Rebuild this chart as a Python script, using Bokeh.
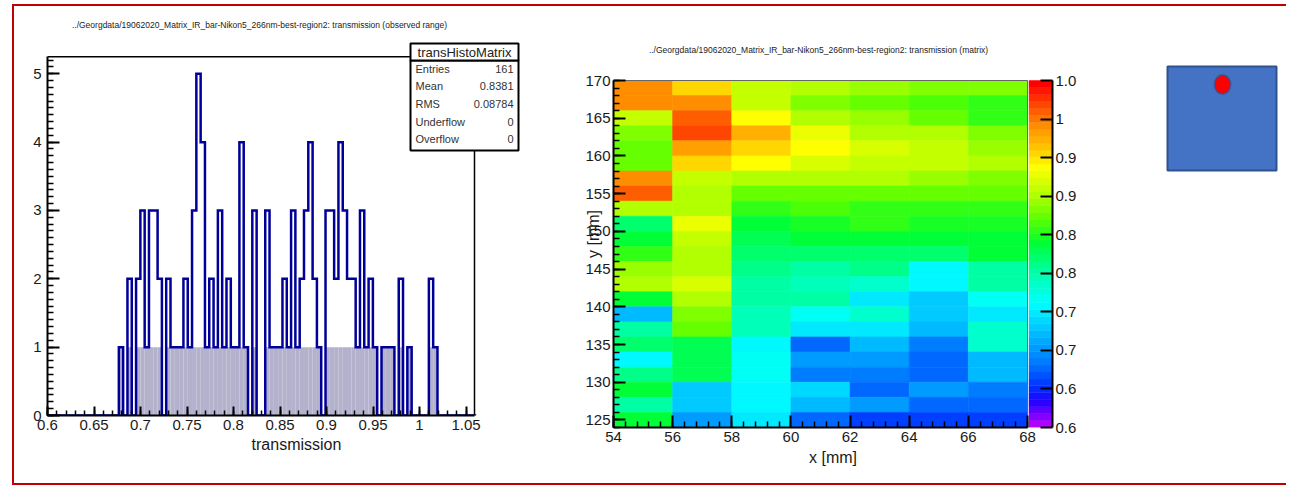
import numpy as np
from bokeh.plotting import figure
from bokeh.models import Range1d, LinearAxis, FixedTicker, Label, ColumnDataSource
from bokeh.layouts import row
from bokeh.embed import file_html
from bokeh.resources import INLINE
from bokeh.transform import linear_cmap

FONT = "Liberation Sans"

# ---------------------------------------------------------------- data
hist_title = "../Georgdata/19062020_Matrix_IR_bar-Nikon5_266nm-best-region2: transmission (observed range)"
map_title = "../Georgdata/19062020_Matrix_IR_bar-Nikon5_266nm-best-region2: transmission (matrix)"
stats_name = "transHistoMatrix"
stats_labels = ["Entries", "Mean", "RMS", "Underflow", "Overflow"]
stats_values = ["161", "0.8381", "0.08784", "0", "0"]
hist_xlabel = "transmission"
map_xlabel = "x [mm]"
map_ylabel = "y [mm]"

# histogram binning (100 bins) and bin contents
bin_lo = 0.598
bin_width = 0.00463
hist_counts = [0, 0, 0, 0, 0, 0, 0, 0, 0, 0,
               0, 0, 0, 0, 0, 0, 0, 1, 0, 2,
               0, 2, 3, 1, 3, 3, 2, 0, 2, 1,
               1, 1, 2, 1, 3, 5, 4, 1, 2, 1,
               3, 1, 2, 1, 1, 4, 1, 0, 3, 0,
               0, 3, 1, 1, 1, 2, 1, 3, 1, 2,
               3, 4, 2, 1, 0, 3, 3, 2, 4, 3,
               2, 2, 1, 3, 1, 2, 1, 0, 1, 1,
               1, 0, 2, 0, 1, 0, 0, 0, 0, 2,
               1, 0, 0, 0, 0, 0, 0, 0, 0, 0]
hist_ticks = [0.6, 0.65, 0.7, 0.75, 0.8, 0.85, 0.9, 0.95, 1.0, 1.05]
hist_tick_labels = ["0.6", "0.65", "0.7", "0.75", "0.8", "0.85", "0.9", "0.95", "1", "1.05"]
count_ticks = [0, 1, 2, 3, 4, 5]

# transmission matrix: columns x = 54..68 mm (2 mm), rows y = 170..124 mm (2 mm), top row first
map_x_lo, map_x_step, map_ncols = 54, 2, 7
map_y_top, map_y_step, map_nrows = 170, 2, 23
transmission_rows = [
    [0.99, 0.96, 0.91, 0.90, 0.89, 0.88, 0.88],
    [0.99, 0.99, 0.91, 0.885, 0.875, 0.865, 0.855],
    [0.91, 1.01, 0.94, 0.905, 0.89, 0.875, 0.855],
    [0.88, 1.02, 0.97, 0.93, 0.905, 0.90, 0.88],
    [0.87, 0.98, 0.955, 0.94, 0.92, 0.91, 0.89],
    [0.87, 0.96, 0.94, 0.92, 0.91, 0.91, 0.90],
    [0.99, 0.91, 0.90, 0.905, 0.90, 0.89, 0.88],
    [1.01, 0.905, 0.87, 0.875, 0.87, 0.875, 0.87],
    [0.90, 0.90, 0.86, 0.865, 0.86, 0.855, 0.86],
    [0.82, 0.93, 0.84, 0.85, 0.855, 0.845, 0.845],
    [0.84, 0.91, 0.83, 0.835, 0.84, 0.835, 0.84],
    [0.855, 0.905, 0.82, 0.82, 0.82, 0.82, 0.835],
    [0.89, 0.905, 0.81, 0.805, 0.81, 0.76, 0.80],
    [0.90, 0.92, 0.80, 0.79, 0.785, 0.76, 0.80],
    [0.84, 0.90, 0.80, 0.80, 0.75, 0.73, 0.77],
    [0.72, 0.88, 0.79, 0.77, 0.785, 0.73, 0.75],
    [0.80, 0.87, 0.79, 0.75, 0.75, 0.72, 0.785],
    [0.82, 0.83, 0.76, 0.68, 0.72, 0.69, 0.785],
    [0.76, 0.83, 0.77, 0.70, 0.70, 0.675, 0.72],
    [0.81, 0.83, 0.77, 0.69, 0.69, 0.675, 0.72],
    [0.84, 0.73, 0.76, 0.74, 0.675, 0.70, 0.69],
    [0.80, 0.73, 0.76, 0.72, 0.70, 0.68, 0.68],
    [0.84, 0.70, 0.75, 0.68, 0.66, 0.66, 0.66],
]
map_x_ticks = [54, 56, 58, 60, 62, 64, 66, 68]
map_y_ticks = [125, 130, 135, 140, 145, 150, 155, 160, 165, 170]
z_min, z_max = 0.6, 1.05
cbar_ticks = [0.6, 0.65, 0.7, 0.75, 0.8, 0.85, 0.9, 0.95, 1.0, 1.05]
cbar_tick_labels = ["0.6", "0.6", "0.7", "0.7", "0.8", "0.8", "0.9", "0.9", "1", "1.0"]

# ---------------------------------------------------------------- palette (ROOT-like rainbow)
anchor_v = [0.600, 0.630, 0.650, 0.680, 0.720, 0.760, 0.800, 0.840, 0.870, 0.900, 0.940, 0.970, 0.990, 1.010, 1.030, 1.050]
anchor_c = ["#b400ff", "#2200ff", "#0033ff", "#0077ff", "#00bbff", "#00ffff", "#00ffaa", "#00ff33",
            "#55ff00", "#aaff00", "#ffff00", "#ffbb00", "#ff9900", "#ff6600", "#ff3300", "#ff0000"]
NPAL = 50
rgb = np.array([[int(c[i:i + 2], 16) for i in (1, 3, 5)] for c in anchor_c], dtype=float)
vals = np.linspace(z_min, z_max, NPAL)
palette = ["#%02x%02x%02x" % tuple(int(round(np.interp(v, anchor_v, rgb[:, k]))) for k in range(3)) for v in vals]

# ---------------------------------------------------------------- page geometry
OX, OY = 14, 6            # page position of the content (inside the red frame)
H = 477
W1, W2, W3 = 536, 560, 176


def style_axis(ax, major_in, minor_in, size="15px"):
    ax.axis_line_width = 2
    ax.axis_line_color = "black"
    ax.major_tick_in = major_in
    ax.major_tick_out = 0
    ax.minor_tick_in = minor_in
    ax.minor_tick_out = 0
    ax.major_tick_line_width = 2
    ax.minor_tick_line_width = 1.5
    ax.major_tick_line_color = "black"
    ax.minor_tick_line_color = "black"
    ax.major_label_text_font = FONT
    ax.major_label_text_font_size = size
    ax.major_label_text_color = "#1a1a1a"
    ax.axis_label_text_font = FONT
    ax.axis_label_text_font_style = "normal"
    ax.axis_label_text_font_size = "16px"
    ax.axis_label_text_color = "#1a1a1a"


def make_fig(w, xr, yr, left, right, top, bottom, **kw):
    f = figure(width=w, height=H, output_backend="svg", toolbar_location=None,
               x_range=xr, y_range=yr, min_border_left=left, min_border_right=right,
               min_border_top=top, min_border_bottom=bottom, **kw)
    f.frame_align = False
    f.outline_line_color = None
    f.grid.visible = False
    f.background_fill_color = "white"
    f.border_fill_color = "white"
    return f


# ================================================================ figure 1: histogram
P1L, P1R, P1T, P1B = 47, 545, 14, 415      # frame edges, page px
XPX, YPX = 930.0, 68.34                     # px per unit
X0PAGE = 47                                 # page x of 0.6


def p1x(px):
    return 0.6 + (px - X0PAGE) / XPX


def p1y(py):
    return (415 - py) / YPX


hist_x_hi = p1x(474)
hist_y_hi = 5.25
x1 = OX
f1 = make_fig(W1, Range1d(p1x(P1L), p1x(P1R)), Range1d(p1y(P1B), p1y(P1T)),
              P1L - x1, x1 + W1 - P1R, P1T - OY, OY + H - P1B)

edges = bin_lo + bin_width * np.arange(len(hist_counts) + 1)
counts = np.array(hist_counts, dtype=float)
nz = counts > 0
f1.quad(left=edges[:-1][nz], right=edges[1:][nz], bottom=0, top=np.minimum(counts[nz], 1),
        fill_color="#b3b1cc", line_color=None)
xs, ys = [edges[0]], [0.0]
for i, c in enumerate(counts):
    xs += [edges[i], edges[i + 1]]
    ys += [c, c]
xs.append(edges[-1])
ys.append(0.0)
f1.line(xs, ys, line_color="#000099", line_width=2.5, line_join="miter")

f1.line([0.6, hist_x_hi, hist_x_hi], [hist_y_hi, hist_y_hi, 0], line_color="black", line_width=1.5)

xa = f1.xaxis[0]
xa.ticker = FixedTicker(ticks=hist_ticks, minor_ticks=[round(0.6 + 0.01 * i, 2) for i in range(46)])
xa.bounds = (0.6, hist_x_hi)
xa.major_label_overrides = dict(zip(hist_ticks, hist_tick_labels))
style_axis(xa, 9, 5)
xa.major_label_standoff = 4
xa.axis_label = hist_xlabel
xa.axis_label_standoff = 3

ya = f1.yaxis[0]
ya.ticker = FixedTicker(ticks=count_ticks, minor_ticks=[round(0.1 * i, 1) for i in range(53)])
ya.bounds = (0, hist_y_hi)
style_axis(ya, 12, 6)
ya.major_label_standoff = 6

f1.add_layout(Label(x=p1x(259), y=p1y(24), text=hist_title, text_align="center", text_baseline="middle",
                    text_font=FONT, text_font_size="8.5px", text_color="#222222"))

# stats box (page px)
SB_L, SB_R, SB_T, SB_M, SB_B = 410, 518, 43, 60, 150
f1.quad(left=p1x(SB_L), right=p1x(SB_R), top=p1y(SB_M), bottom=p1y(SB_B),
        fill_color="white", line_color="black", line_width=2)
f1.quad(left=p1x(SB_L), right=p1x(SB_R), top=p1y(SB_T), bottom=p1y(SB_M),
        fill_color="white", line_color="black", line_width=2)
f1.add_layout(Label(x=p1x((SB_L + SB_R) / 2), y=p1y((SB_T + SB_M) / 2 + 0.5), text=stats_name,
                    text_align="center", text_baseline="middle", text_font=FONT,
                    text_font_size="13px", text_color="#222222"))
for i, (nm, vl) in enumerate(zip(stats_labels, stats_values)):
    cy = 68 + 17.7 * i
    f1.add_layout(Label(x=p1x(SB_L + 5), y=p1y(cy), text=nm, text_align="left", text_baseline="middle",
                        text_font=FONT, text_font_size="11px", text_color="#333333"))
    f1.add_layout(Label(x=p1x(SB_R - 5), y=p1y(cy), text=vl, text_align="right", text_baseline="middle",
                        text_font=FONT, text_font_size="11px", text_color="#333333"))

# ================================================================ figure 2: matrix
x2 = OX + W1
P2L, P2R, P2T, P2B = 613, 1052, 40, 427
MXPX = (1027 - 613) / 14.0
MYPX = (427 - 80) / 46.0
CBPX = (427 - 80) / (z_max - z_min)


def p2x(px):
    return 54 + (px - 613) / MXPX


def p2y(py):
    return map_y_top - (py - 80) / MYPX


my_lo = map_y_top - map_y_step * map_nrows
f2 = make_fig(W2, Range1d(54, p2x(P2R)), Range1d(my_lo, p2y(P2T)),
              P2L - x2, x2 + W2 - P2R, P2T - OY, OY + H - P2B)
f2.extra_y_ranges = {"cb": Range1d(z_min, z_max + (80 - P2T) / CBPX)}

cx_, cy_, vv = [], [], []
for r, rowvals in enumerate(transmission_rows):
    for c, v in enumerate(rowvals):
        cx_.append(map_x_lo + map_x_step * (c + 0.5))
        cy_.append(map_y_top - map_y_step * (r + 0.5))
        vv.append(v)
src = ColumnDataSource(dict(x=cx_, y=cy_, v=vv))
cmap = linear_cmap("v", palette, z_min, z_max)
f2.rect(x="x", y="y", width=map_x_step, height=map_y_step, source=src,
        fill_color=cmap, line_color=cmap, line_width=0.6)

f2.line([54, 68, 68], [map_y_top, map_y_top, my_lo], line_color="#666666", line_width=1)

dz = (z_max - z_min) / NPAL
f2.quad(left=p2x(1028.5), right=p2x(P2R), bottom=[z_min + i * dz for i in range(NPAL)],
        top=[z_min + (i + 1) * dz for i in range(NPAL)], fill_color=palette, line_color=palette,
        line_width=0.5, y_range_name="cb")
cba = LinearAxis(y_range_name="cb", ticker=FixedTicker(ticks=cbar_ticks, minor_ticks=[]),
                 bounds=(z_min, z_max))
cba.major_label_overrides = dict(zip(cbar_ticks, cbar_tick_labels))
style_axis(cba, 12, 0)
cba.major_label_standoff = 3
f2.add_layout(cba, "right")

xb = f2.xaxis[0]
xb.ticker = FixedTicker(ticks=map_x_ticks, minor_ticks=[round(54 + 0.4 * i, 1) for i in range(36)])
xb.bounds = (54, 68)
style_axis(xb, 12, 6)
xb.major_label_standoff = 4
xb.axis_label = map_xlabel
xb.axis_label_standoff = 4

yb = f2.yaxis[0]
yb.ticker = FixedTicker(ticks=map_y_ticks, minor_ticks=list(range(124, 171)))
yb.bounds = (my_lo, map_y_top)
style_axis(yb, 12, 6)
yb.major_label_standoff = 3
yb.axis_label = map_ylabel
yb.axis_label_standoff = -20

f2.add_layout(Label(x=p2x(818), y=p2y(49), text=map_title, text_align="center", text_baseline="middle",
                    text_font=FONT, text_font_size="8.5px", text_color="#222222"))

# ================================================================ figure 3: sample sketch (page px)
x3 = OX + W1 + W2
f3 = make_fig(W3, Range1d(x3, x3 + W3), Range1d(OY + H, OY), 0, 0, 0, 0,
              x_axis_location=None, y_axis_location=None)
f3.quad(left=1167, right=1276, top=66, bottom=170, fill_color="#4472c4", line_color="#2f528f", line_width=2)
f3.ellipse(x=1222, y=84, width=16, height=19, fill_color="#ff0000", line_color="#2f4f8f",
           line_width=2, line_alpha=0.6)

layout = row(f1, f2, f3, styles={"margin-left": "12px", "margin-top": "4px",
                                 "border-left": "2px solid #c00000",
                                 "border-top": "2px solid #c00000",
                                 "border-bottom": "2px solid #c00000"})

with open("out.html", "w") as fh:
    fh.write(file_html(layout, INLINE))
